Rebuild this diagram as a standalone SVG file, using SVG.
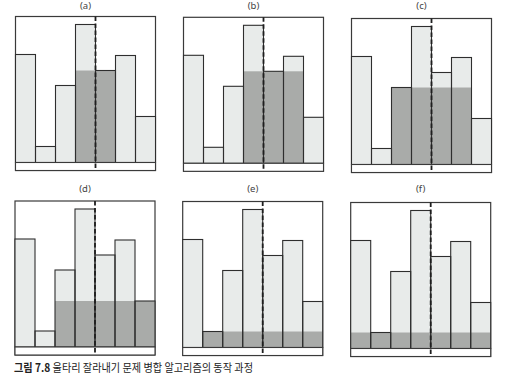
<svg xmlns="http://www.w3.org/2000/svg" xmlns:xlink="http://www.w3.org/1999/xlink" width="505" height="381" viewBox="0 0 505 381">
<style>
.frame{fill:#fff;stroke:#3a3a3a;stroke-width:1.2}
.light{fill:#e8ebea;stroke:none}
.out{fill:none;stroke:#2e2e2e;stroke-width:1.1}
.gray{fill:#a9aba9;stroke:none}
.strip{fill:#fff;stroke:#3a3a3a;stroke-width:1.1}
.cut{stroke:#1e1e1e;stroke-width:1.8;stroke-dasharray:4.5 2.5;fill:none}
.lbl{font-family:"Noto Sans","Liberation Sans",sans-serif;font-size:9.5px;fill:#444;text-anchor:middle}
.cap{font-family:"Noto Sans CJK KR","Noto Sans",sans-serif;font-size:11px;fill:#222}
</style>
<defs>
<g id="barsFill">
<rect class="light" x="0" y="38" width="20" height="108"/>
<rect class="light" x="20" y="130" width="20" height="16"/>
<rect class="light" x="40" y="69" width="20" height="77"/>
<rect class="light" x="60" y="8" width="20" height="138"/>
<rect class="light" x="80" y="54" width="20" height="92"/>
<rect class="light" x="100" y="39" width="20" height="107"/>
<rect class="light" x="120" y="100" width="20" height="46"/>
</g>
<g id="barsLine">
<rect class="out" x="0" y="38" width="20" height="108"/>
<rect class="out" x="20" y="130" width="20" height="16"/>
<rect class="out" x="40" y="69" width="20" height="77"/>
<rect class="out" x="60" y="8" width="20" height="138"/>
<rect class="out" x="80" y="54" width="20" height="92"/>
<rect class="out" x="100" y="39" width="20" height="107"/>
<rect class="out" x="120" y="100" width="20" height="46"/>
</g>
</defs>

<g id="panel-a" transform="translate(15.5,16.5)">
<text class="lbl" x="70" y="-8">(a)</text>
<rect class="frame" x="0" y="0" width="140" height="154"/>
<use xlink:href="#barsFill"/>
<rect class="gray" x="60" y="54" width="40" height="92"/>
<use xlink:href="#barsLine"/>
<rect class="strip" x="0" y="146" width="140" height="8"/>
<line class="cut" x1="80" y1="0" x2="80" y2="154"/>
</g>

<g id="panel-b" transform="translate(183.5,17.3)">
<text class="lbl" x="70" y="-8.8">(b)</text>
<rect class="frame" x="0" y="0" width="140" height="154"/>
<use xlink:href="#barsFill"/>
<rect class="gray" x="60" y="54" width="60" height="92"/>
<use xlink:href="#barsLine"/>
<rect class="strip" x="0" y="146" width="140" height="8"/>
<line class="cut" x1="80" y1="0" x2="80" y2="154"/>
</g>

<g id="panel-c" transform="translate(351.5,18.5)">
<text class="lbl" x="70" y="-10">(c)</text>
<rect class="frame" x="0" y="0" width="140" height="154"/>
<use xlink:href="#barsFill"/>
<rect class="gray" x="40" y="69" width="80" height="77"/>
<use xlink:href="#barsLine"/>
<rect class="strip" x="0" y="146" width="140" height="8"/>
<line class="cut" x1="80" y1="0" x2="80" y2="154"/>
</g>

<g id="panel-d" transform="translate(15,201)">
<text class="lbl" x="70" y="-9">(d)</text>
<rect class="frame" x="0" y="0" width="140" height="154"/>
<use xlink:href="#barsFill"/>
<rect class="gray" x="40" y="100" width="100" height="46"/>
<use xlink:href="#barsLine"/>
<rect class="strip" x="0" y="146" width="140" height="8"/>
<line class="cut" x1="80" y1="0" x2="80" y2="154"/>
</g>

<g id="panel-e" transform="translate(182.7,201.5)">
<text class="lbl" x="70" y="-9.5">(e)</text>
<rect class="frame" x="0" y="0" width="140" height="154"/>
<use xlink:href="#barsFill"/>
<rect class="gray" x="20" y="130" width="120" height="16"/>
<use xlink:href="#barsLine"/>
<rect class="strip" x="0" y="146" width="140" height="8"/>
<line class="cut" x1="80" y1="0" x2="80" y2="154"/>
</g>

<g id="panel-f" transform="translate(350.7,202.5)">
<text class="lbl" x="70" y="-10.5">(f)</text>
<rect class="frame" x="0" y="0" width="140" height="154"/>
<use xlink:href="#barsFill"/>
<rect class="gray" x="0" y="130" width="140" height="16"/>
<use xlink:href="#barsLine"/>
<rect class="strip" x="0" y="146" width="140" height="8"/>
<line class="cut" x1="80" y1="0" x2="80" y2="154"/>
</g>

<g id="connectors"/>

<text class="cap" x="14" y="372" textLength="239" lengthAdjust="spacingAndGlyphs"><tspan font-weight="bold">그림 7.8</tspan> 울타리 잘라내기 문제 병합 알고리즘의 동작 과정</text>
</svg>
